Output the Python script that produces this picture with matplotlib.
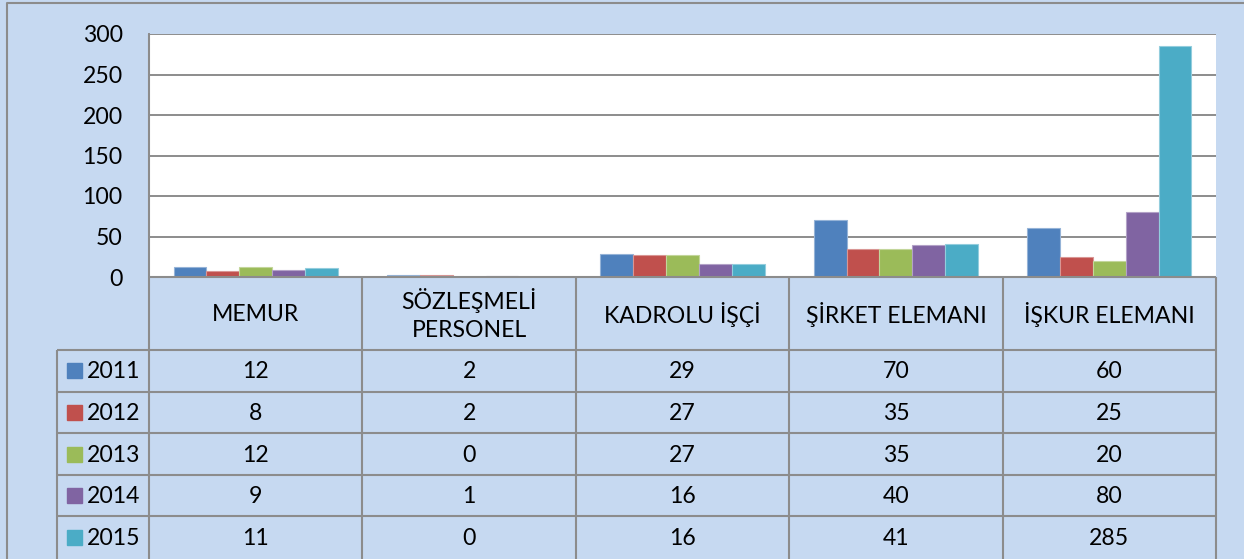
import numpy as np
import matplotlib
matplotlib.use('Agg')
import matplotlib.pyplot as plt
from matplotlib.colors import to_rgb

# ── data ──
categories = ['MEMUR', 'SÖZLEŞMELİ\nPERSONEL', 'KADROLU İŞÇİ',
              'ŞİRKET ELEMANI', 'İŞKUR ELEMANI']
years = ['2011', '2012', '2013', '2014', '2015']
v2011 = [12, 2, 29, 70, 60]
v2012 = [8, 2, 27, 35, 25]
v2013 = [12, 0, 27, 35, 20]
v2014 = [9, 1, 16, 40, 80]
v2015 = [11, 0, 16, 41, 285]
series = [v2011, v2012, v2013, v2014, v2015]
colors = ['#4F81BD', '#C0504D', '#9BBB59', '#8064A2', '#4BACC6']
yticks = [0, 50, 100, 150, 200, 250, 300]

plt.rcParams['font.family'] = ['Lato', 'DejaVu Sans']
FS = 16.6
W, H = 1244, 559
BG = '#C6D9F1'
LINE = '#8C8C8C'

fig = plt.figure(figsize=(W / 100, H / 100), dpi=100)
fig.patch.set_facecolor(BG)

# pixel layout
pl, pr, pt, pb = 149, 1216, 34, 277
tab_left = 57
hdr_bot = 350
row_h = (558 - hdr_bot) / 5
col_w = (pr - pl) / 5

# ── bar chart ──
ax = fig.add_axes([pl / W, 1 - pb / H, (pr - pl) / W, (pb - pt) / H])
ax.set_facecolor('white')
n = len(series)
bw = 1 / 6.5
x = np.arange(len(categories))
for i, (vals, c) in enumerate(zip(series, colors)):
    light = tuple(min(1, v * 0.6 + 0.4) for v in to_rgb(c))
    ax.bar(x + (i - (n - 1) / 2) * bw, vals, bw, color=c,
           edgecolor=light, linewidth=0.8, zorder=3)
ax.set_xlim(-0.5, len(categories) - 0.5)
ax.set_ylim(0, 300)
ax.set_yticks(yticks)
ax.set_yticklabels([str(t) for t in yticks], fontsize=FS)
ax.tick_params(axis='y', length=0, pad=19)
ax.set_xticks([])
for t in yticks[1:]:
    ax.axhline(t, color=LINE, lw=1.4, zorder=1)
for s in ['top', 'right', 'bottom']:
    ax.spines[s].set_visible(False)
ax.spines['left'].set_color(LINE)
ax.spines['left'].set_linewidth(1.4)

# ── data table (pixel coordinates overlay) ──
tb = fig.add_axes([0, 0, 1, 1], facecolor='none')
tb.set_xlim(0, W)
tb.set_ylim(H, 0)
tb.axis('off')

kw = dict(color=LINE, lw=1.5, solid_capstyle='butt')
# outer frame
tb.plot([7, 7, W], [H, 3, 3], **kw)
# header top (zero line)
tb.plot([pl, pr], [pb, pb], **kw)
# vertical lines
for k in range(6):
    xx = pl + k * col_w
    tb.plot([xx, xx], [pb, H], **kw)
tb.plot([pl, pl], [pt, pb], **kw)
tb.plot([tab_left, tab_left], [hdr_bot, H], **kw)
# horizontal row lines
for r in range(5):
    yy = hdr_bot + r * row_h
    tb.plot([tab_left, pr], [yy, yy], **kw)

# header labels
for k, cat in enumerate(categories):
    tb.text(pl + (k + 0.5) * col_w, (pb + hdr_bot) / 2 + 1, cat,
            ha='center', va='center', fontsize=FS, linespacing=1.45)

# rows
for r, (yr, vals, c) in enumerate(zip(years, series, colors)):
    yc = hdr_bot + (r + 0.5) * row_h
    tb.add_patch(plt.Rectangle((67, yc - 7.5), 15, 15, color=c))
    tb.text(87, yc + 1, yr, ha='left', va='center', fontsize=FS)
    for k, v in enumerate(vals):
        tb.text(pl + (k + 0.5) * col_w, yc + 1, str(v),
                ha='center', va='center', fontsize=FS)

fig.savefig('out.png', dpi=100, facecolor=BG)
